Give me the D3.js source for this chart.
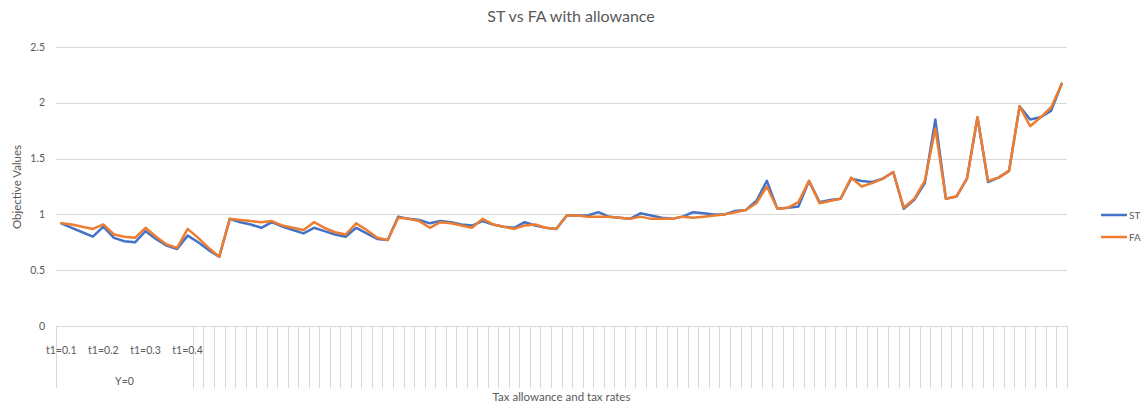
<!DOCTYPE html>
<html>
<head>
<meta charset="utf-8">
<script src="https://cdn.jsdelivr.net/npm/d3@7"></script>
<style>
  body { margin: 0; background: #fff; }
  text { font-family: Lato, "Open Sans", sans-serif; fill: #595959; }
</style>
</head>
<body>
<div id="vis"></div>
<script>
// 96 categories, one per (allowance, tax rate) combination
var categories = d3.range(96);

var stValues = [
  0.92, 0.88, 0.84, 0.80, 0.89, 0.79, 0.76, 0.75, 0.85, 0.78, 0.72, 0.69, 0.81, 0.75, 0.68, 0.62,
  0.96, 0.93, 0.91, 0.88, 0.93, 0.89, 0.86, 0.83, 0.88, 0.85, 0.82, 0.80, 0.88, 0.83, 0.78, 0.77,
  0.98, 0.96, 0.95, 0.92, 0.94, 0.93, 0.91, 0.90, 0.94, 0.91, 0.89, 0.88, 0.93, 0.90, 0.88, 0.87,
  0.99, 0.99, 0.99, 1.02, 0.98, 0.97, 0.96, 1.01, 0.99, 0.97, 0.96, 0.98, 1.02, 1.01, 1.00, 1.00,
  1.03, 1.04, 1.12, 1.30, 1.05, 1.06, 1.07, 1.30, 1.11, 1.13, 1.14, 1.32, 1.30, 1.29, 1.32, 1.38,
  1.05, 1.13, 1.28, 1.85, 1.14, 1.16, 1.32, 1.87, 1.29, 1.33, 1.39, 1.97, 1.85, 1.87, 1.93, 2.17
];

var faValues = [
  0.92, 0.91, 0.89, 0.87, 0.91, 0.82, 0.80, 0.79, 0.88, 0.80, 0.73, 0.70, 0.87, 0.79, 0.70, 0.62,
  0.96, 0.95, 0.94, 0.93, 0.94, 0.90, 0.88, 0.86, 0.93, 0.88, 0.84, 0.82, 0.92, 0.86, 0.79, 0.77,
  0.97, 0.96, 0.94, 0.88, 0.93, 0.92, 0.90, 0.88, 0.96, 0.91, 0.89, 0.87, 0.90, 0.91, 0.88, 0.87,
  0.99, 0.99, 0.98, 0.98, 0.98, 0.97, 0.96, 0.98, 0.96, 0.96, 0.96, 0.98, 0.97, 0.98, 0.99, 1.00,
  1.02, 1.04, 1.10, 1.25, 1.05, 1.06, 1.11, 1.30, 1.10, 1.12, 1.14, 1.33, 1.25, 1.28, 1.32, 1.38,
  1.06, 1.14, 1.30, 1.77, 1.14, 1.16, 1.32, 1.87, 1.30, 1.33, 1.39, 1.97, 1.79, 1.87, 1.96, 2.17
];

var yTicks = [0, 0.5, 1, 1.5, 2, 2.5];

// inner level labels that Excel shows, and the categories they sit on
var innerLabels = ['t1=0.1', 't1=0.2', 't1=0.3', 't1=0.4'];
var innerLabelIndex = [0, 4, 8, 12];

// outer level: first group is labelled, every later category is its own blank group
var outerLabel = 'Y=0';
var outerGroupSize = 13;

var seriesNames = ['ST', 'FA'];
var seriesColors = ['#4472C4', '#ED7D31'];

var width = 1142;
var height = 403;
var plot = { left: 56, right: 1067, top: 47, bottom: 326 };

var svg = d3.select('#vis').append('svg')
  .attr('width', width)
  .attr('height', height);

var x = d3.scaleBand()
  .domain(categories)
  .range([plot.left, plot.right])
  .padding(0);

var y = d3.scaleLinear()
  .domain([0, 2.5])
  .range([plot.bottom, plot.top]);

// gridlines
svg.append('g')
  .selectAll('line')
  .data(yTicks)
  .enter().append('line')
  .attr('x1', plot.left)
  .attr('x2', plot.right)
  .attr('y1', function (d) { return Math.round(y(d)) + 0.5; })
  .attr('y2', function (d) { return Math.round(y(d)) + 0.5; })
  .attr('stroke', '#d9d9d9')
  .attr('stroke-width', 1);

// y tick labels
svg.append('g')
  .selectAll('text')
  .data(yTicks)
  .enter().append('text')
  .attr('x', plot.left - 11)
  .attr('y', function (d) { return y(d); })
  .attr('dy', '0.35em')
  .attr('text-anchor', 'end')
  .style('font-size', '10.5px')
  .text(function (d) { return d; });

// category tick lines: group boundaries of the multi-level axis
var boundaries = [categories[0], categories[outerGroupSize]]
  .concat(categories.slice(outerGroupSize + 1));
var tickX = boundaries.map(function (c) { return x(c); }).concat([plot.right]);

svg.append('g')
  .selectAll('line')
  .data(tickX)
  .enter().append('line')
  .attr('x1', function (d) { return Math.round(d) + 0.5; })
  .attr('x2', function (d) { return Math.round(d) + 0.5; })
  .attr('y1', plot.bottom)
  .attr('y2', plot.bottom + 62)
  .attr('stroke', '#d9d9d9')
  .attr('stroke-width', 1);

// inner labels
svg.append('g')
  .selectAll('text')
  .data(innerLabels)
  .enter().append('text')
  .attr('x', function (d, i) { return x(categories[innerLabelIndex[i]]) + x.bandwidth() / 2; })
  .attr('y', plot.bottom + 24)
  .attr('dy', '0.35em')
  .attr('text-anchor', 'middle')
  .style('font-size', '10.5px')
  .text(function (d) { return d; });

// outer label
svg.append('text')
  .attr('x', (x(categories[0]) + x(categories[outerGroupSize])) / 2)
  .attr('y', plot.bottom + 55)
  .attr('dy', '0.35em')
  .attr('text-anchor', 'middle')
  .style('font-size', '10.5px')
  .text(outerLabel);

// series lines
var line = d3.line()
  .x(function (d, i) { return x(categories[i]) + x.bandwidth() / 2; })
  .y(function (d) { return y(d); });

svg.append('g')
  .selectAll('path')
  .data([stValues, faValues])
  .enter().append('path')
  .attr('d', line)
  .attr('fill', 'none')
  .attr('stroke', function (d, i) { return seriesColors[i]; })
  .attr('stroke-width', 2.5)
  .attr('stroke-linejoin', 'round')
  .attr('stroke-linecap', 'round');

// title
svg.append('text')
  .attr('x', width / 2)
  .attr('y', 22)
  .attr('text-anchor', 'middle')
  .style('font-size', '16px')
  .text('ST vs FA with allowance');

// axis titles
svg.append('text')
  .attr('x', (plot.left + plot.right) / 2)
  .attr('y', 401)
  .attr('text-anchor', 'middle')
  .style('font-size', '11.5px')
  .text('Tax allowance and tax rates');

svg.append('text')
  .attr('transform', 'translate(21,' + 187 + ') rotate(-90)')
  .attr('text-anchor', 'middle')
  .style('font-size', '11.5px')
  .text('Objective Values');

// legend at the right edge
var legend = svg.append('g')
  .selectAll('g')
  .data(seriesNames)
  .enter().append('g')
  .attr('transform', function (d, i) { return 'translate(1101,' + (215 + i * 22) + ')'; });

legend.append('line')
  .attr('x1', 0)
  .attr('x2', 26)
  .attr('stroke', function (d, i) { return seriesColors[i]; })
  .attr('stroke-width', 2.5);

legend.append('text')
  .attr('x', 28)
  .attr('dy', '0.35em')
  .style('font-size', '10px')
  .text(function (d) { return d; });
</script>
</body>
</html>
